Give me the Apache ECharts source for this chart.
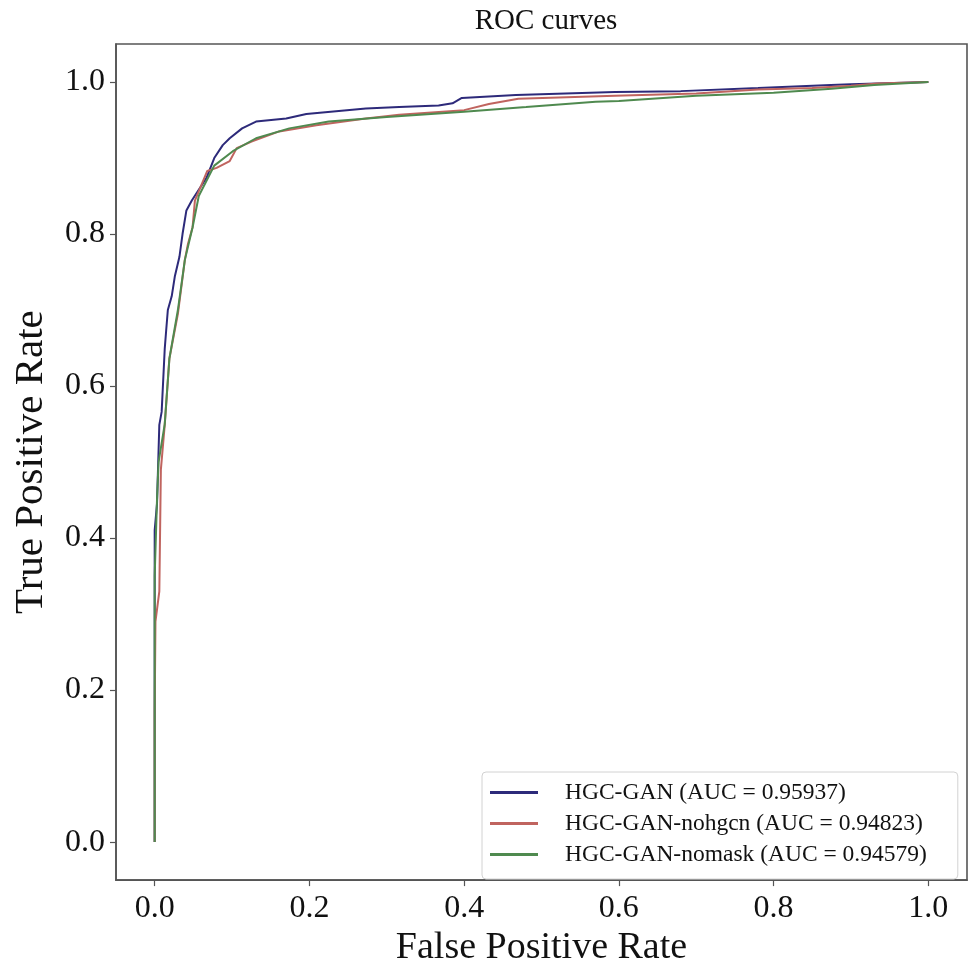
<!DOCTYPE html>
<html>
<head>
<meta charset="utf-8">
<script src="https://cdn.jsdelivr.net/npm/echarts@6/dist/echarts.min.js"></script>
<style>
  html, body { margin: 0; padding: 0; background: #fff; }
  #chart { width: 969px; height: 972px; }
</style>
</head>
<body>
<div id="chart"></div>
<script>
// ticks on both axes
const tickValues = [0, 0.2, 0.4, 0.6, 0.8, 1.0]

const seriesNames = [
  'HGC-GAN (AUC = 0.95937)',
  'HGC-GAN-nohgcn (AUC = 0.94823)',
  'HGC-GAN-nomask (AUC = 0.94579)'
]

// HGC-GAN
const fprFull = [0, 0, 0.000, 0.003, 0.006, 0.009, 0.013, 0.015, 0.017, 0.022, 0.026, 0.032, 0.036, 0.041, 0.048, 0.067, 0.077, 0.088, 0.097, 0.113, 0.131, 0.170, 0.196, 0.238, 0.273, 0.316, 0.367, 0.385, 0.397, 0.467, 0.595, 0.68, 0.78, 0.874, 0.90, 1.0]
const tprFull = [0, 0.33, 0.41, 0.445, 0.549, 0.566, 0.649, 0.675, 0.70, 0.718, 0.744, 0.77, 0.80, 0.831, 0.844, 0.874, 0.90, 0.917, 0.926, 0.939, 0.948, 0.952, 0.958, 0.962, 0.965, 0.967, 0.969, 0.972, 0.979, 0.983, 0.987, 0.988, 0.992, 0.996, 0.997, 1.0]

// HGC-GAN-nohgcn
const fprNoHgcn = [0, 0, 0.001, 0.006, 0.008, 0.013, 0.019, 0.030, 0.039, 0.043, 0.049, 0.052, 0.068, 0.080, 0.097, 0.106, 0.126, 0.161, 0.209, 0.273, 0.316, 0.40, 0.432, 0.470, 0.595, 0.70, 0.78, 0.85, 0.90, 0.934, 1.0]
const tprNoHgcn = [0, 0.17, 0.29, 0.33, 0.49, 0.549, 0.636, 0.695, 0.766, 0.787, 0.809, 0.844, 0.883, 0.887, 0.896, 0.913, 0.922, 0.935, 0.943, 0.952, 0.957, 0.963, 0.971, 0.978, 0.982, 0.985, 0.990, 0.992, 0.995, 0.998, 1.0]

// HGC-GAN-nomask
const fprNoMask = [0, 0, 0.003, 0.005, 0.013, 0.019, 0.030, 0.039, 0.049, 0.057, 0.067, 0.077, 0.101, 0.131, 0.174, 0.225, 0.30, 0.40, 0.48, 0.57, 0.60, 0.70, 0.80, 0.875, 0.93, 1.0]
const tprNoMask = [0, 0.35, 0.45, 0.50, 0.55, 0.636, 0.70, 0.766, 0.809, 0.85, 0.87, 0.89, 0.909, 0.926, 0.939, 0.948, 0.954, 0.961, 0.967, 0.974, 0.975, 0.982, 0.986, 0.991, 0.996, 1.0]

const lineColors = ['#2d2a7a', '#c0645f', '#4f8a4f']

function pairs(xs, ys) {
  return xs.map((x, i) => [x, ys[i]])
}

const chart = echarts.init(document.getElementById('chart'))

const serif = 'Liberation Serif'
const frameColor = '#555'

const axisCommon = {
  type: 'value',
  min: -0.05,
  max: 1.05,
  splitLine: { show: false },
  axisLine: { show: true, onZero: false, lineStyle: { color: frameColor, width: 1.6 } },
  axisTick: { show: true, inside: false, length: 6, customValues: tickValues, lineStyle: { color: frameColor, width: 1.2 } },
  axisLabel: {
    customValues: tickValues,
    color: '#111',
    fontFamily: serif,
    fontSize: 32,
    formatter: v => v.toFixed(1)
  },
  nameLocation: 'middle',
  nameTextStyle: { color: '#111', fontFamily: serif, fontSize: 38 }
}

const option = {
  animation: false,
  backgroundColor: '#fff',
  title: {
    text: 'ROC curves',
    left: 541,
    textAlign: 'center',
    top: 2,
    textStyle: { color: '#111', fontFamily: serif, fontSize: 29, fontWeight: 'normal' }
  },
  grid: {
    left: 116,
    right: 2,
    top: 44,
    bottom: 81,
    show: true,
    borderColor: frameColor,
    borderWidth: 1.6,
    backgroundColor: '#fff'
  },
  legend: {
    data: seriesNames,
    orient: 'vertical',
    left: 482,
    bottom: 93,
    icon: 'rect',
    itemWidth: 48,
    itemHeight: 3,
    itemGap: 6,
    padding: [8, 31, 12, 8],
    backgroundColor: '#fff',
    borderColor: '#d2d2d2',
    borderWidth: 1,
    borderRadius: 4,
    textStyle: { color: '#111', fontFamily: serif, fontSize: 23.5, lineHeight: 25, padding: [0, 0, 0, 22] }
  },
  xAxis: Object.assign({}, axisCommon, {
    name: 'False Positive Rate',
    nameGap: 41,
    axisLabel: Object.assign({}, axisCommon.axisLabel, { margin: 12 })
  }),
  yAxis: Object.assign({}, axisCommon, {
    name: 'True Positive Rate',
    nameGap: 64,
    nameTextStyle: { color: '#111', fontFamily: serif, fontSize: 41 },
    axisLabel: Object.assign({}, axisCommon.axisLabel, { margin: 11 })
  }),
  series: [
    { name: seriesNames[0], data: pairs(fprFull, tprFull) },
    { name: seriesNames[1], data: pairs(fprNoHgcn, tprNoHgcn) },
    { name: seriesNames[2], data: pairs(fprNoMask, tprNoMask) }
  ].map((s, i) => Object.assign(s, {
    type: 'line',
    symbol: 'none',
    color: lineColors[i],
    lineStyle: { color: lineColors[i], width: 2 }
  }))
}

chart.setOption(option)
</script>
</body>
</html>
